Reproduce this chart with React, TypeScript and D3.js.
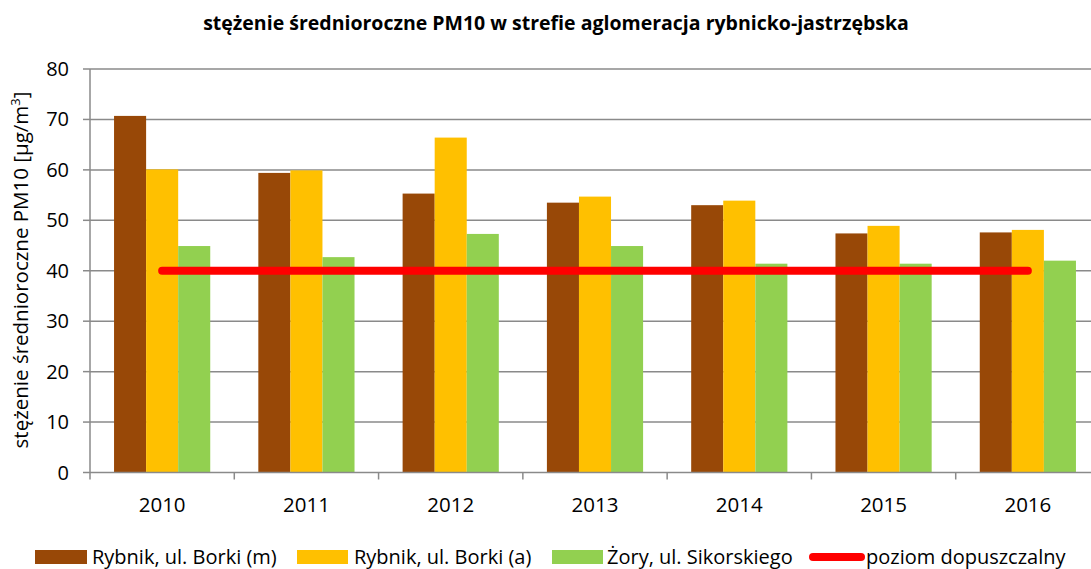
import React from 'react';
import * as d3 from 'd3';

const years = ['2010', '2011', '2012', '2013', '2014', '2015', '2016'];
const seriesNames = ['Rybnik, ul. Borki (m)', 'Rybnik, ul. Borki (a)', 'Żory, ul. Sikorskiego'];
const borkiM = [70.7, 59.4, 55.3, 53.5, 53.0, 47.4, 47.6];
const borkiA = [60.1, 59.9, 66.4, 54.7, 53.9, 48.9, 48.1];
const zory = [44.9, 42.7, 47.3, 44.9, 41.4, 41.4, 42.0];
const limitName = 'poziom dopuszczalny';
const limit = [40, 40, 40, 40, 40, 40, 40];
const yTicks = [0, 10, 20, 30, 40, 50, 60, 70, 80];
const colors = ['#984807', '#ffc000', '#92d050'];

const W = 1091;
const H = 569;
const FONT = '"Open Sans", "DejaVu Sans", sans-serif';

const App = () => {
  const left = 90;
  const right = 1100;
  const top = 69;
  const bottom = 472.5;

  const x0 = d3.scaleBand().domain(years).range([left, right]).paddingInner(0).paddingOuter(0);
  const x1 = d3.scaleBand().domain(seriesNames).range([0, x0.bandwidth()]).paddingInner(0).paddingOuter(0.75);
  const y = d3.scaleLinear().domain([0, 80]).range([bottom, top]);

  const series = [borkiM, borkiA, zory];
  const line = d3.line<number>()
    .x((d, i) => (x0(years[i]) ?? 0) + x0.bandwidth() / 2)
    .y(d => y(d));

  const tickEdges = [...years.map(yr => x0(yr) ?? 0), right];

  const legend = [
    { x: 35, w: 52, tx: 92, label: seriesNames[0], color: colors[0] },
    { x: 297, w: 51, tx: 354, label: seriesNames[1], color: colors[1] },
    { x: 552, w: 51, tx: 607, label: seriesNames[2], color: colors[2] },
  ];

  return (
    <svg width={W} height={H} style={{ position: 'absolute', left: 0, top: 0, background: '#fff' }}>
      <text x={556} y={30} textAnchor="middle" fontFamily={FONT} fontWeight="bold" fontSize={19.5} fill="#000">
        stężenie średnioroczne PM10 w strefie aglomeracja rybnicko-jastrzębska
      </text>

      {yTicks.map(t => (
        <g key={t}>
          {t > 0 && <line x1={left} x2={W} y1={y(t)} y2={y(t)} stroke="#8a8a8a" strokeWidth={1.5} />}
          <line x1={left - 7} x2={left} y1={y(t)} y2={y(t)} stroke="#8a8a8a" strokeWidth={1.5} />
          <text x={69} y={y(t) + 7} textAnchor="end" fontFamily={FONT} fontSize={20} fill="#000">{t}</text>
        </g>
      ))}

      {series.map((vals, si) => (
        <g key={si}>
          {vals.map((v, i) => (
            <rect key={i}
              x={(x0(years[i]) ?? 0) + (x1(seriesNames[si]) ?? 0)}
              y={y(v)}
              width={x1.bandwidth()}
              height={bottom - y(v)}
              fill={colors[si]} />
          ))}
        </g>
      ))}

      <line x1={left} x2={left} y1={top} y2={bottom} stroke="#8a8a8a" strokeWidth={1.5} />
      <line x1={left} x2={W} y1={bottom} y2={bottom} stroke="#8a8a8a" strokeWidth={1.5} />
      {tickEdges.map((tx, i) => (
        <line key={i} x1={tx} x2={tx} y1={bottom} y2={bottom + 7} stroke="#8a8a8a" strokeWidth={1.5} />
      ))}

      <path d={line(limit) ?? ''} fill="none" stroke="#ff0000" strokeWidth={8} strokeLinecap="round" />

      {years.map(yr => (
        <text key={yr} x={(x0(yr) ?? 0) + x0.bandwidth() / 2} y={512} textAnchor="middle" fontFamily={FONT} fontSize={20.5} fill="#000">{yr}</text>
      ))}

      <text transform={`translate(28, 270) rotate(-90)`} textAnchor="middle" fontFamily={FONT} fontSize={20.5} fill="#000">
        stężenie średnioroczne PM10 [µg/m<tspan dy={-8} fontSize={13}>3</tspan><tspan dy={8}>]</tspan>
      </text>

      {legend.map(l => (
        <g key={l.label}>
          <rect x={l.x} y={550} width={l.w} height={14} fill={l.color} />
          <text x={l.tx} y={563.5} fontFamily={FONT} fontSize={20} fill="#000">{l.label}</text>
        </g>
      ))}
      <line x1={813} x2={861} y1={557} y2={557} stroke="#ff0000" strokeWidth={8} strokeLinecap="round" />
      <text x={866} y={563.5} fontFamily={FONT} fontSize={20} fill="#000">{limitName}</text>
    </svg>
  );
};

export default App;
